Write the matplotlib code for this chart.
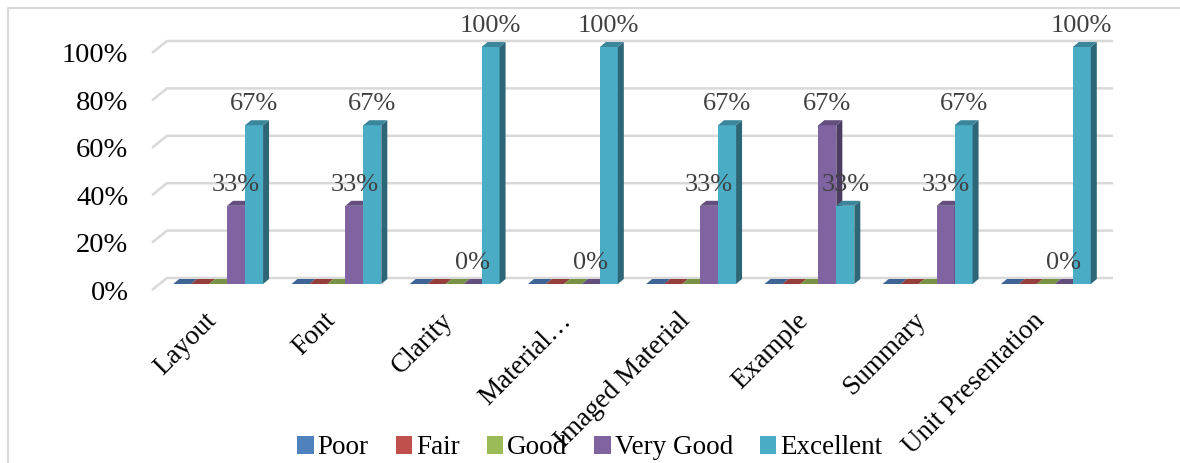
import matplotlib.pyplot as plt
import numpy as np
from matplotlib.patches import Polygon, Patch
from matplotlib.lines import Line2D
from matplotlib.colors import to_rgb

categories = ['Layout', 'Font', 'Clarity', 'Material…', 'Imaged Material',
              'Example', 'Summary', 'Unit Presentation']
series_names = ['Poor', 'Fair', 'Good', 'Very Good', 'Excellent']
poor = [0, 0, 0, 0, 0, 0, 0, 0]
fair = [0, 0, 0, 0, 0, 0, 0, 0]
good = [0, 0, 0, 0, 0, 0, 0, 0]
very_good = [0.33, 0.33, 0, 0, 0.33, 0.67, 0.33, 0]
excellent = [0.67, 0.67, 1.0, 1.0, 0.67, 0.33, 0.67, 1.0]
yticks = [0, 0.2, 0.4, 0.6, 0.8, 1.0]

series = [poor, fair, good, very_good, excellent]
colors = ['#4F81BD', '#C0504D', '#9BBB59', '#8064A2', '#4BACC6']
show_labels = [False, False, False, True, True]

W, H = 1180, 463
fig = plt.figure(figsize=(W / 100, H / 100), dpi=100)
# front plane of the fake 3D plot, in pixels
left, right, y0, y100 = 152, 1098, 290, 53
ax = fig.add_axes([left / W, (H - y0) / H, (right - left) / W, (y0 - y100) / H])
n = len(categories)
ax.set_xlim(0, n)
ax.set_ylim(0, 1)
for s in ax.spines.values():
    s.set_visible(False)

px = (right - left) / n      # pixels per category
py = (y0 - y100) / 1.0       # pixels per unit value

def shade(c, f):
    r, g, b = to_rgb(c)
    return (r * f, g * f, b * f)

# back wall / side wall gridlines
wx, wy = 15 / px, 12 / py
for t in yticks:
    ax.plot([0, wx, n + wx], [t, t + wy, t + wy], color='#d9d9d9', lw=1.8,
            clip_on=False, zorder=0, solid_capstyle='butt')

# bars
gap = 0.12
bw = (1 - 2 * gap) / len(series)
sx, sy = 7 / px, 6 / py      # front face offset into the depth
dx, dy = 6 / px, 5 / py      # bar depth
serif = 'Liberation Serif'
z = 2
for i in range(n):
    for j, vals in enumerate(series):
        h = vals[i]
        x0 = i + gap + j * bw + sx
        c = colors[j]
        ax.bar(x0, h, width=bw, bottom=sy, align='edge', color=c, zorder=z,
               clip_on=False, linewidth=0)
        top = Polygon([(x0, sy + h), (x0 + dx, sy + h + dy),
                       (x0 + bw + dx, sy + h + dy), (x0 + bw, sy + h)],
                      closed=True, facecolor=shade(c, 0.78), edgecolor='none',
                      zorder=z, clip_on=False)
        side = Polygon([(x0 + bw, sy), (x0 + bw + dx, sy + dy),
                        (x0 + bw + dx, sy + h + dy), (x0 + bw, sy + h)],
                       closed=True, facecolor=shade(c, 0.6), edgecolor='none',
                       zorder=z, clip_on=False)
        ax.add_patch(side)
        ax.add_patch(top)
        z += 0.01
        if show_labels[j]:
            ax.annotate('%d%%' % round(h * 100), xy=(x0 + bw / 2, sy + h),
                        xytext=(0, 15), textcoords='offset points',
                        ha='center', va='center', fontsize=19,
                        color='#404040', family=serif, zorder=10,
                        annotation_clip=False)

# axes ticks
ax.set_yticks(yticks)
ax.set_yticklabels(['%d%%' % round(t * 100) for t in yticks],
                   fontsize=20.5, family=serif)
ax.set_xticks([i + 0.5 - 7 / px for i in range(n)])
ax.set_xticklabels(categories, rotation=45, ha='right', va='top',
                   rotation_mode='anchor', fontsize=19.5, family=serif)
ax.tick_params(axis='y', length=0, pad=17)
ax.tick_params(axis='x', length=0, pad=13)

# legend
handles = [Patch(facecolor=c, edgecolor='none') for c in colors]
fig.legend(handles, series_names, loc='center', ncol=5, frameon=False,
           bbox_to_anchor=(0.5, (H - 448) / H),
           prop={'family': serif, 'size': 19.5},
           handlelength=0.6, handleheight=0.6, handletextpad=0.15,
           columnspacing=1.0, borderaxespad=0, borderpad=0)

# chart area border
fig.add_artist(Line2D([8 / W, 8 / W, 1.0], [0, (H - 8) / H, (H - 8) / H],
                      transform=fig.transFigure, color='#d9d9d9', lw=1.5))

fig.savefig('out.png', dpi=100)
